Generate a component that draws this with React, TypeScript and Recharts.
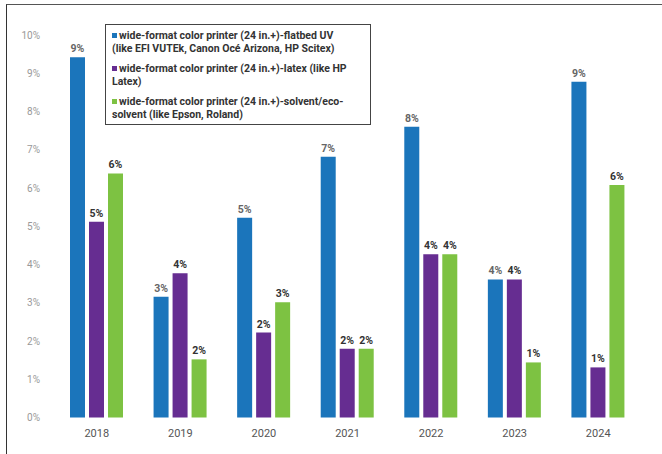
import React from "react";
import {
  BarChart,
  Bar,
  XAxis,
  YAxis,
  Legend,
  LabelList,
} from "recharts";

const YEARS = ["2018", "2019", "2020", "2021", "2022", "2023", "2024"];
const FLATBED_UV = [9.42, 3.16, 5.22, 6.82, 7.6, 3.61, 8.78];
const LATEX = [5.12, 3.77, 2.22, 1.8, 4.27, 3.61, 1.31];
const SOLVENT = [6.38, 1.52, 3.01, 1.8, 4.27, 1.44, 6.08];
const Y_TICKS = [0, 1, 2, 3, 4, 5, 6, 7, 8, 9, 10];

const SERIES = [
  {
    key: "flatbed",
    name: "wide-format color printer (24 in.+)-flatbed UV (like EFI VUTEk, Canon Océ Arizona, HP Scitex)",
    lines: [
      "wide-format color printer (24 in.+)-flatbed UV",
      "(like EFI VUTEk, Canon Océ Arizona, HP Scitex)",
    ],
    color: "#1b75bb",
    labelColor: "#666",
  },
  {
    key: "latex",
    name: "wide-format color printer (24 in.+)-latex (like HP Latex)",
    lines: ["wide-format color printer (24 in.+)-latex (like HP", "Latex)"],
    color: "#662d91",
    labelColor: "#333",
  },
  {
    key: "solvent",
    name: "wide-format color printer (24 in.+)-solvent/eco-solvent (like Epson, Roland)",
    lines: [
      "wide-format color printer (24 in.+)-solvent/eco-",
      "solvent (like Epson, Roland)",
    ],
    color: "#7dc242",
    labelColor: "#333",
  },
];

const data = YEARS.map((year, i) => ({
  year,
  flatbed: FLATBED_UV[i],
  latex: LATEX[i],
  solvent: SOLVENT[i],
}));

const FONT = "'Liberation Sans Narrow', Roboto, sans-serif";

const LegendBox = () => (
  <div
    style={{
      border: "1.2px solid #444",
      background: "#fff",
      padding: "5px 6px 3px 6px",
      fontFamily: FONT,
      fontWeight: 700,
      fontSize: 10.5,
      color: "#333",
      lineHeight: "12.5px",
      boxSizing: "border-box",
      width: 266,
    }}
  >
    {SERIES.map((s, idx) => (
      <div key={s.key} style={{ marginTop: idx === 0 ? 0 : 8 }}>
        {s.lines.map((line, j) => (
          <div key={j} style={{ whiteSpace: "nowrap" }}>
            {j === 0 && (
              <span
                style={{
                  display: "inline-block",
                  width: 5,
                  height: 5,
                  background: s.color,
                  marginRight: 2,
                  verticalAlign: "middle",
                  marginTop: -2,
                }}
              />
            )}
            {line}
          </div>
        ))}
      </div>
    ))}
  </div>
);

export default function App() {
  return (
    <div
      style={{
        position: "absolute",
        left: 0,
        top: 0,
        width: 662,
        height: 454,
        overflow: "hidden",
        background: "#fff",
      }}
    >
      <div
        style={{
          position: "absolute",
          left: 6,
          top: 4,
          width: 700,
          height: 500,
          borderTop: "1.5px solid #555",
          borderLeft: "1.5px solid #333",
        }}
      />
      <BarChart
        width={662}
        height={454}
        data={data}
        margin={{ top: 35, right: 22, left: 0, bottom: 6 }}
        barCategoryGap={15}
        barGap={4}
        style={{ position: "absolute", left: 0, top: 0 }}
      >
        <XAxis
          dataKey="year"
          height={30.5}
          axisLine={false}
          tickLine={false}
          tickMargin={6}
          tick={{ fill: "#555", fontSize: 11, fontFamily: FONT }}
        />
        <YAxis
          width={55}
          domain={[0, 10]}
          ticks={Y_TICKS}
          interval={0}
          axisLine={false}
          tickLine={false}
          tickMargin={9}
          tickFormatter={(v: number) => `${v}%`}
          tick={{ fill: "#999", fontSize: 10, fontFamily: FONT }}
        />
        <Legend
          layout="vertical"
          align="center"
          verticalAlign="middle"
          wrapperStyle={{ left: 105, top: 24, width: 266 }}
          content={() => <LegendBox />}
        />
        {SERIES.map((s) => (
          <Bar
            key={s.key}
            dataKey={s.key}
            name={s.name}
            fill={s.color}
            barSize={15}
            isAnimationActive={false}
          >
            <LabelList
              dataKey={s.key}
              position="top"
              offset={5}
              formatter={(v: number) => `${Math.round(v)}%`}
              style={{
                fill: s.labelColor,
                fontSize: 10.5,
                fontWeight: 700,
                fontFamily: FONT,
              }}
            />
          </Bar>
        ))}
      </BarChart>
    </div>
  );
}
